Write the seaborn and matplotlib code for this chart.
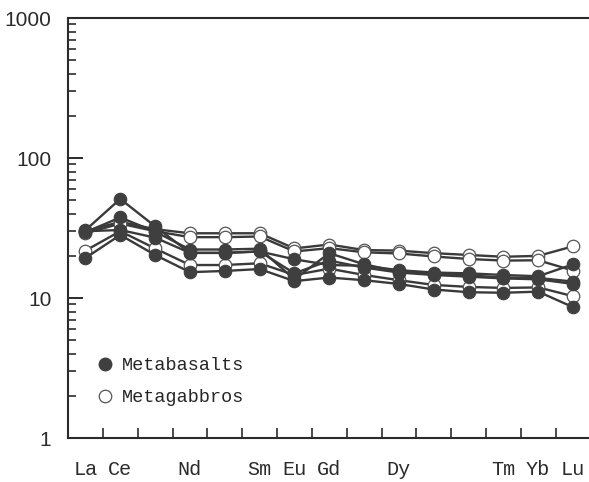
import matplotlib
matplotlib.use("Agg")
import matplotlib.pyplot as plt
import seaborn as sns
import numpy as np
import pandas as pd
from matplotlib.lines import Line2D
from matplotlib.ticker import FixedLocator, LogLocator, NullFormatter

# ---- data (chondrite-normalised REE) ----
elements = ["La", "Ce", "Pr", "Nd", "Pm", "Sm", "Eu", "Gd", "Tb", "Dy", "Ho", "Er", "Tm", "Yb", "Lu"]
labelled = ["La", "Ce", "Nd", "Sm", "Eu", "Gd", "Dy", "Tm", "Yb", "Lu"]

# Metagabbros (open symbols)
gabbro_1 = [30.0, 35.0, 31.0, 29.0, 29.0, 29.0, 22.6, 24.1, 22.0, 21.8, 20.9, 20.3, 19.7, 20.0, 23.4]
gabbro_2 = [29.0, 34.0, 30.0, 27.2, 27.2, 27.5, 21.5, 22.7, 21.2, 20.8, 19.8, 19.0, 18.5, 18.6, 15.7]
gabbro_3 = [21.8, 30.0, 22.6, 17.2, 17.2, 17.7, 14.6, 16.2, 14.6, 13.4, 12.4, 12.0, 11.8, 11.9, 10.3]

# Metabasalts (filled symbols)
basalt_1 = [30.5, 51.0, 32.5, 21.0, 21.0, 21.5, 18.9, 17.2, 17.0, 15.8, 15.2, 15.0, 14.6, 14.3, 17.4]
basalt_2 = [29.5, 37.6, 29.8, 22.2, 22.2, 22.5, 13.6, 20.9, 17.4, 15.4, 14.9, 14.5, 14.0, 13.9, 13.1]
basalt_3 = [30.0, 30.6, 27.0, 21.0, 21.0, 21.5, 15.0, 18.5, 16.5, 15.2, 14.6, 14.2, 13.8, 13.6, 12.6]
basalt_4 = [19.3, 28.2, 20.3, 15.3, 15.6, 16.1, 13.2, 14.0, 13.4, 12.6, 11.5, 11.0, 10.9, 11.1, 8.6]

series = {
    "gabbro_1": ("Metagabbros", gabbro_1),
    "gabbro_2": ("Metagabbros", gabbro_2),
    "gabbro_3": ("Metagabbros", gabbro_3),
    "basalt_1": ("Metabasalts", basalt_1),
    "basalt_2": ("Metabasalts", basalt_2),
    "basalt_3": ("Metabasalts", basalt_3),
    "basalt_4": ("Metabasalts", basalt_4),
}

rows = []
for name, (rock, vals) in series.items():
    for i, (el, v) in enumerate(zip(elements, vals)):
        rows.append({"sample": name, "rock": rock, "pos": i, "element": el, "value": v})
df = pd.DataFrame(rows)

# ---- style ----
sns.set_style("ticks")
plt.rcParams["font.family"] = ["Liberation Sans", "DejaVu Sans"]

ink = "#2b2b2b"
line_c = "#3a3a3a"
fill_c = "#3f3f3f"

fig = plt.figure(figsize=(5.89, 4.82), dpi=100)
ax = fig.add_axes([68 / 589, 1 - 438 / 482, 522.5 / 589, 420 / 482])

for name, (rock, vals) in series.items():
    sub = df[df["sample"] == name]
    if rock == "Metagabbros":
        mfc, mec, mew = "white", "#555555", 0.9
    else:
        mfc, mec, mew = fill_c, fill_c, 0.8
    sns.lineplot(data=sub, x="pos", y="value", ax=ax, sort=False, legend=False,
                 errorbar=None, color=line_c, linewidth=1.7, marker="o",
                 markersize=9, markerfacecolor=mfc, markeredgecolor=mec,
                 markeredgewidth=mew)

ax.set_yscale("log")
ax.set_ylim(1, 1000)
ax.set_xlim(-0.5, 14.5)

ax.yaxis.set_major_locator(FixedLocator([1, 10, 100, 1000]))
ax.set_yticklabels(["1", "10", "100", "1000"])
ax.yaxis.set_minor_locator(LogLocator(base=10, subs=np.arange(2, 10)))
ax.yaxis.set_minor_formatter(NullFormatter())
ax.tick_params(axis="y", which="major", direction="in", length=11, width=1.4,
               labelsize=15, pad=12, colors=ink)
ax.tick_params(axis="y", which="minor", direction="in", length=6, width=1.2, colors=ink)

ax.set_xticks(range(len(elements)))
ax.set_xticklabels([el if el in labelled else "" for el in elements],
                   family=["Liberation Mono", "DejaVu Sans Mono"], fontsize=14.5)
ax.xaxis.set_minor_locator(FixedLocator(np.arange(0.5, len(elements) - 1, 1.0)))
ax.tick_params(axis="x", which="major", length=0, pad=16, colors=ink)
ax.tick_params(axis="x", which="minor", direction="in", length=7, width=1.2, colors=ink)

ax.set_xlabel("")
ax.set_ylabel("")
for side in ["left", "top", "bottom"]:
    ax.spines[side].set_linewidth(1.5)
    ax.spines[side].set_color(ink)
ax.spines["right"].set_visible(False)

handles = [
    Line2D([], [], ls="none", marker="o", markersize=9, markerfacecolor=fill_c,
           markeredgecolor=fill_c),
    Line2D([], [], ls="none", marker="o", markersize=9, markerfacecolor="white",
           markeredgecolor="#555555", markeredgewidth=0.9),
]
ax.legend(handles, ["Metabasalts", "Metagabbros"], loc="lower left",
          bbox_to_anchor=(0.057, 0.076), frameon=False,
          prop={"family": "Liberation Mono", "size": 13.3},
          handlelength=0.75, handletextpad=0.55, labelspacing=0.8,
          borderpad=0, borderaxespad=0)

fig.savefig("out.png", dpi=100)
